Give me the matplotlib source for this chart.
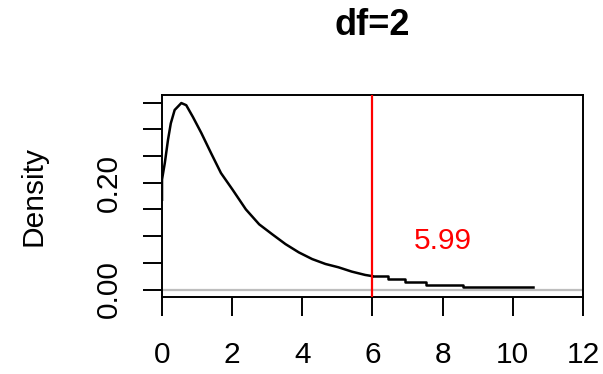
import matplotlib
matplotlib.use("Agg")
import matplotlib.pyplot as plt

plt.rcParams['font.family'] = ['Liberation Sans', 'DejaVu Sans']

# density curve
curve_x = [0.0, 0.0, 0.08, 0.17, 0.25, 0.36, 0.55, 0.69, 0.88, 1.12, 1.40,
           1.68, 2.01, 2.39, 2.77, 3.14, 3.52, 3.90, 4.28, 4.66, 5.03, 5.41,
           5.79, 6.00]
curve_y = [0.168, 0.206, 0.237, 0.280, 0.311, 0.336, 0.349, 0.345, 0.323,
           0.293, 0.255, 0.218, 0.187, 0.150, 0.122, 0.1035, 0.085, 0.0695,
           0.057, 0.0478, 0.0416, 0.0335, 0.0273, 0.025]
# stair-step tail
tail_x = [6.00, 6.45, 6.92, 7.54, 8.58, 10.59]
tail_y = [0.025, 0.0199, 0.0138, 0.0087, 0.0045, 0.0045]

crit = 5.99
crit_label = "5.99"
title = "df=2"
xticks = [0, 2, 4, 6, 8, 10, 12]
yticks = [0.00, 0.05, 0.10, 0.15, 0.20, 0.25, 0.30, 0.35]
ytick_labels = ["0.00", "", "", "", "0.20", "", "", ""]

fig = plt.figure(figsize=(6.03, 3.74), dpi=100)
ax = fig.add_axes([0.2687, 0.2059, 0.698, 0.540])

ax.axhline(0, color="#BEBEBE", lw=1.6, zorder=1)
ax.plot(curve_x, curve_y, color="black", lw=1.8, zorder=2)
ax.plot(tail_x, tail_y, color="black", lw=1.8, drawstyle="steps-post", zorder=2)
ax.axvline(crit, color="red", lw=1.6, zorder=3)
ax.text(8, 0.09, crit_label, color="red", fontsize=21.5, ha="center", va="center")

ax.set_xlim(0, 12)
ax.set_ylim(-0.014, 0.364)
ax.set_xticks(xticks)
ax.set_yticks(yticks)
ax.set_yticklabels(ytick_labels, rotation=90, va="center")

for s in ax.spines.values():
    s.set_linewidth(1.4)
ax.tick_params(axis="both", length=14, width=1.4, labelsize=21.5)
ax.tick_params(axis="x", pad=18)
ax.tick_params(axis="y", pad=14)

ax.set_ylabel("Density", fontsize=21.5, labelpad=34)
ax.set_title(title, fontsize=26, fontweight="bold", pad=43)

fig.savefig("out.png", dpi=100)
